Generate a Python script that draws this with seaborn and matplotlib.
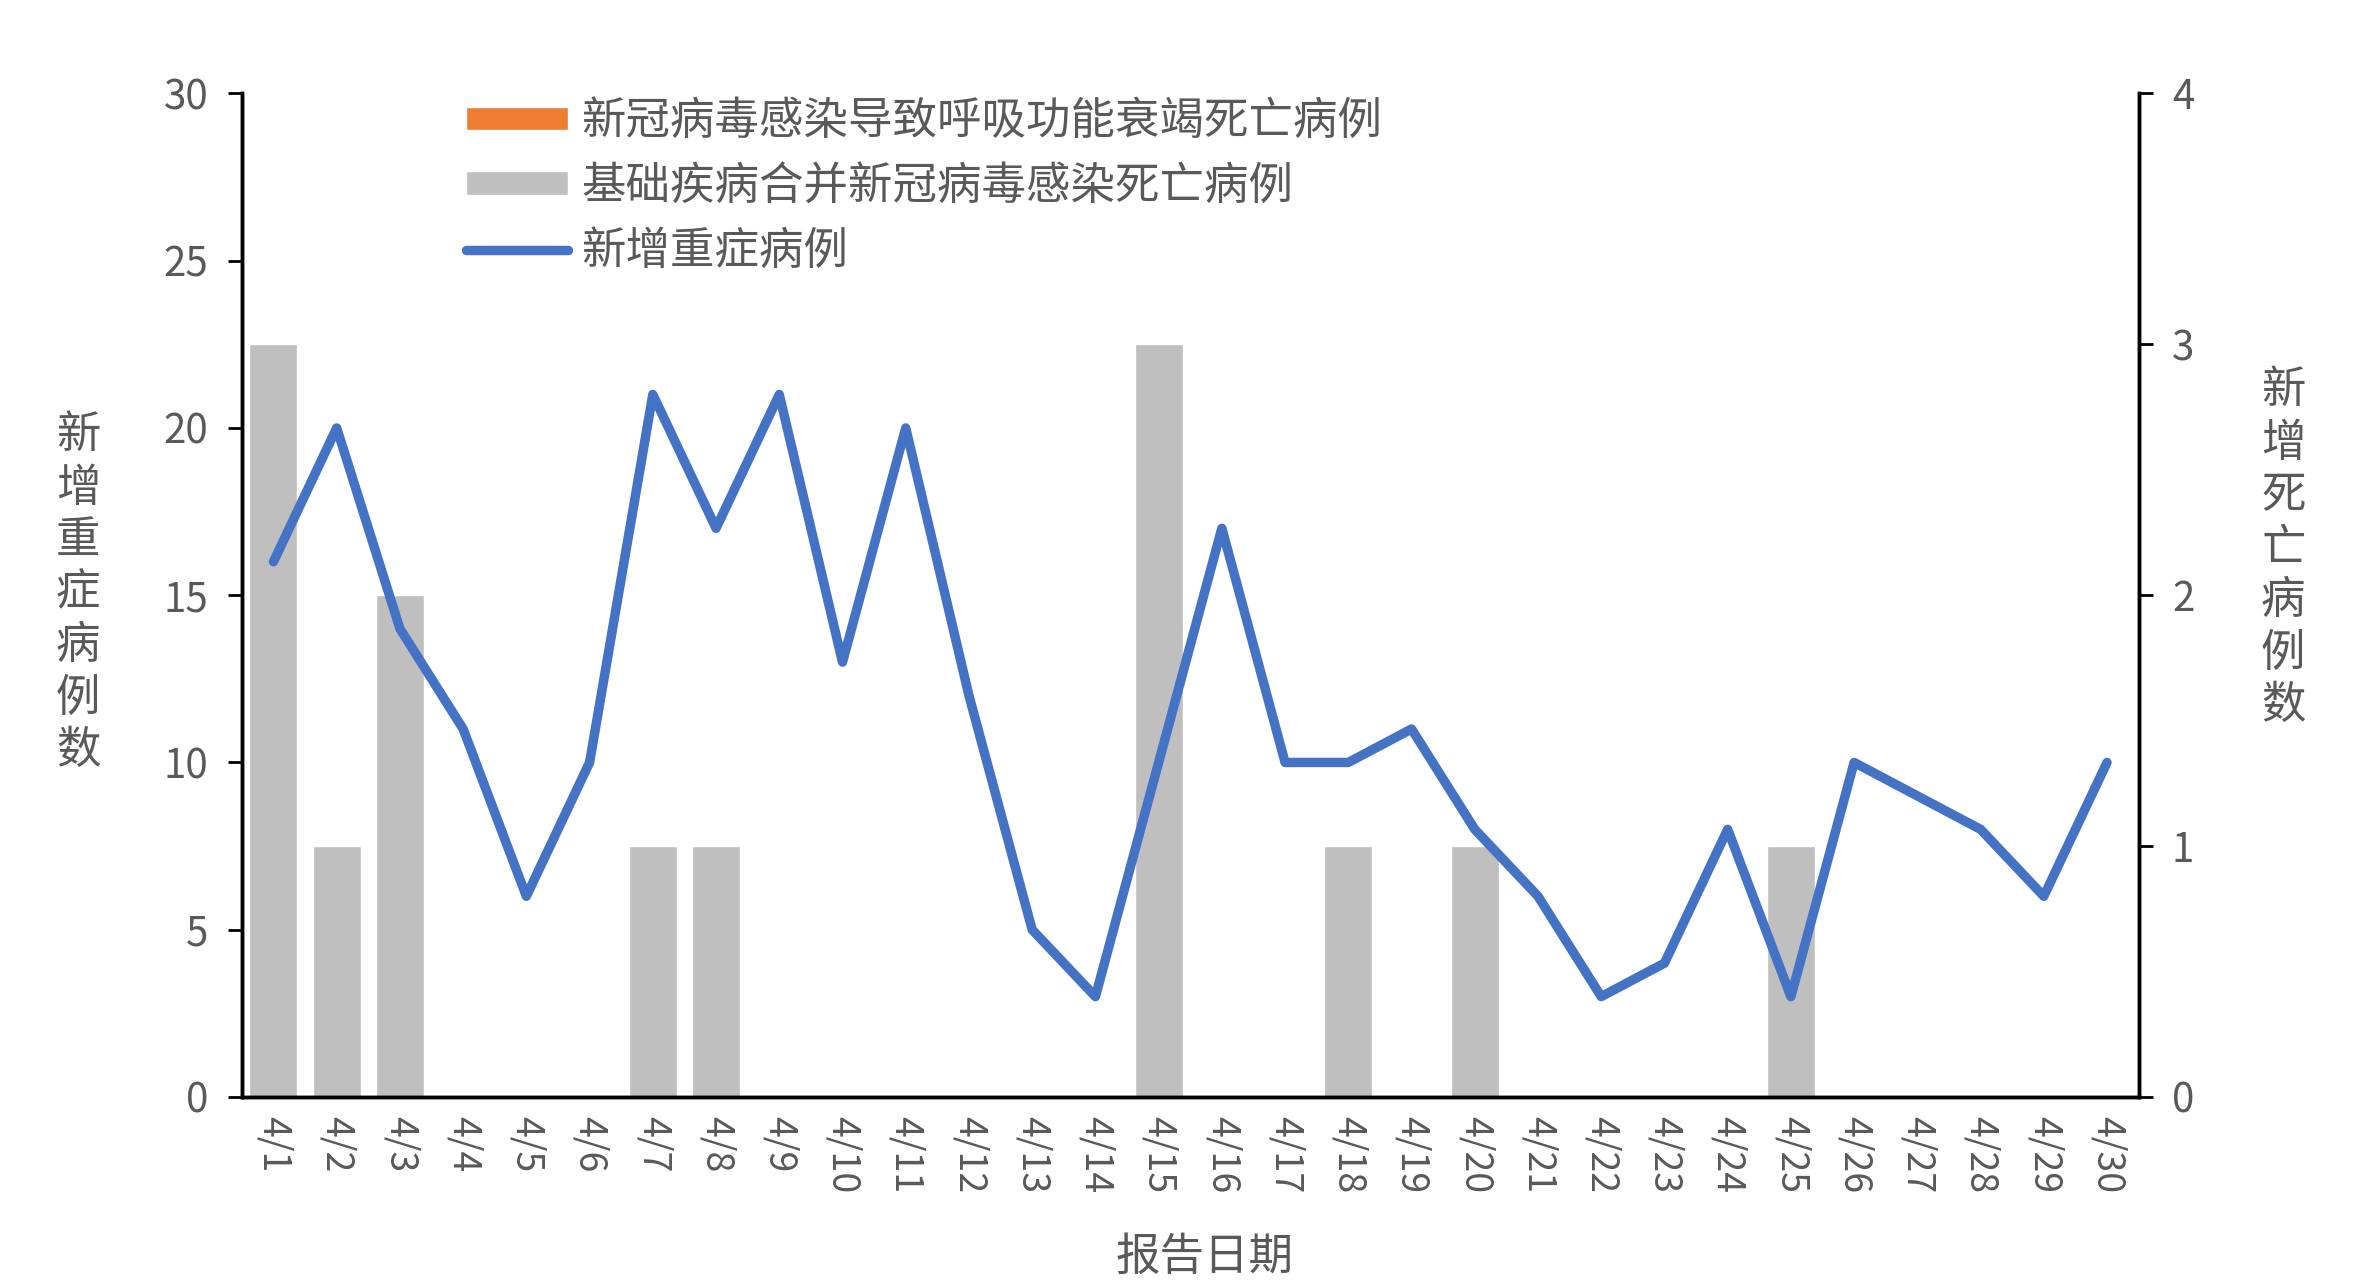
import numpy as np
import pandas as pd
import seaborn as sns
import matplotlib.pyplot as plt
from matplotlib.ticker import MultipleLocator, FixedLocator

# data
dates = [f"4/{d}" for d in range(1, 31)]
severe = [16, 20, 14, 11, 6, 10, 21, 17, 21, 13, 20, 12, 5, 3, 10,
          17, 10, 10, 11, 8, 6, 3, 4, 8, 3, 10, 9, 8, 6, 10]
resp_deaths = [0] * 30
base_deaths = [3, 1, 2, 0, 0, 0, 1, 1, 0, 0, 0, 0, 0, 0, 3,
               0, 0, 1, 0, 1, 0, 0, 0, 0, 1, 0, 0, 0, 0, 0]

lab_resp = "新冠病毒感染导致呼吸功能衰竭死亡病例"
lab_base = "基础疾病合并新冠病毒感染死亡病例"
lab_severe = "新增重症病例"

sns.set_style("white")
plt.rcParams['font.family'] = ['Noto Sans CJK SC', 'DejaVu Sans']
grey_txt = "#595959"

df = pd.DataFrame({"date": dates, "pos": np.arange(30), "severe": severe,
                   "resp": resp_deaths, "base": base_deaths})

fig = plt.figure(figsize=(23.71, 12.8), dpi=100)
ax = fig.add_axes([0.102, 0.143, 0.800, 0.784])
ax2 = ax.twinx()

# bars on the right axis
sns.barplot(data=df, x="pos", y="resp", color="#ED7D31", width=0.76,
            saturation=1, ax=ax2, label=lab_resp)
sns.barplot(data=df, x="pos", y="base", color="#BFBFBF", width=0.76,
            saturation=1, ax=ax2, label=lab_base)
# line on the left axis, drawn above the bars
sns.lineplot(data=df, x="pos", y="severe", color="#4472C4", linewidth=6.8,
             ax=ax, label=lab_severe)
ax.set_zorder(ax2.get_zorder() + 1)
ax.patch.set_visible(False)

ax.set_ylim(0, 30)
ax2.set_ylim(0, 4)
ax.set_xlim(-0.5, 29.5)
ax.yaxis.set_major_locator(MultipleLocator(5))
ax2.yaxis.set_major_locator(MultipleLocator(1))

# ticks at category boundaries, labels at centres
ax.xaxis.set_major_locator(FixedLocator(np.arange(-0.5, 30, 1)))
ax.xaxis.set_minor_locator(FixedLocator(np.arange(30)))
ax.set_xticklabels([], minor=False)
ax.set_xticklabels(dates, minor=True, rotation=270, fontsize=27, color=grey_txt)
ax.tick_params(axis="x", which="major", direction="out", length=12, width=2, color="black")
ax.tick_params(axis="x", which="minor", length=0, pad=14)
ax.tick_params(axis="y", direction="out", length=10, width=2, color="black",
               labelsize=29, labelcolor=grey_txt, pad=14, left=True)
ax2.tick_params(axis="y", direction="out", length=10, width=2, color="black",
                labelsize=29, labelcolor=grey_txt, pad=14, right=True)

for a in (ax, ax2):
    a.set_xlabel("")
    a.set_ylabel("")
    a.spines["top"].set_visible(False)
    for s in ("left", "right", "bottom"):
        a.spines[s].set_color("black")
        a.spines[s].set_linewidth(2.5)

# vertical stacked axis titles
fig.text(0.033, 0.537, "\n".join("新增重症病例数"), ha="center", va="center",
         fontsize=32, color=grey_txt, linespacing=1.18)
fig.text(0.963, 0.572, "\n".join("新增死亡病例数"), ha="center", va="center",
         fontsize=32, color=grey_txt, linespacing=1.18)
fig.text(0.508, 0.0, "报告日期", ha="center", va="bottom",
         fontsize=32, color=grey_txt)

# legend
h2, l2 = ax2.get_legend_handles_labels()
h1, l1 = ax.get_legend_handles_labels()
if ax2.get_legend():
    ax2.get_legend().remove()
leg = ax.legend(h2 + h1, l2 + l1, loc="upper left", bbox_to_anchor=(0.097, 1.035),
                frameon=False, fontsize=32, handlelength=2.3, handleheight=0.45,
                labelspacing=0.42, handletextpad=0.3)
for t in leg.get_texts():
    t.set_color(grey_txt)

fig.savefig("out.png", dpi=100)
